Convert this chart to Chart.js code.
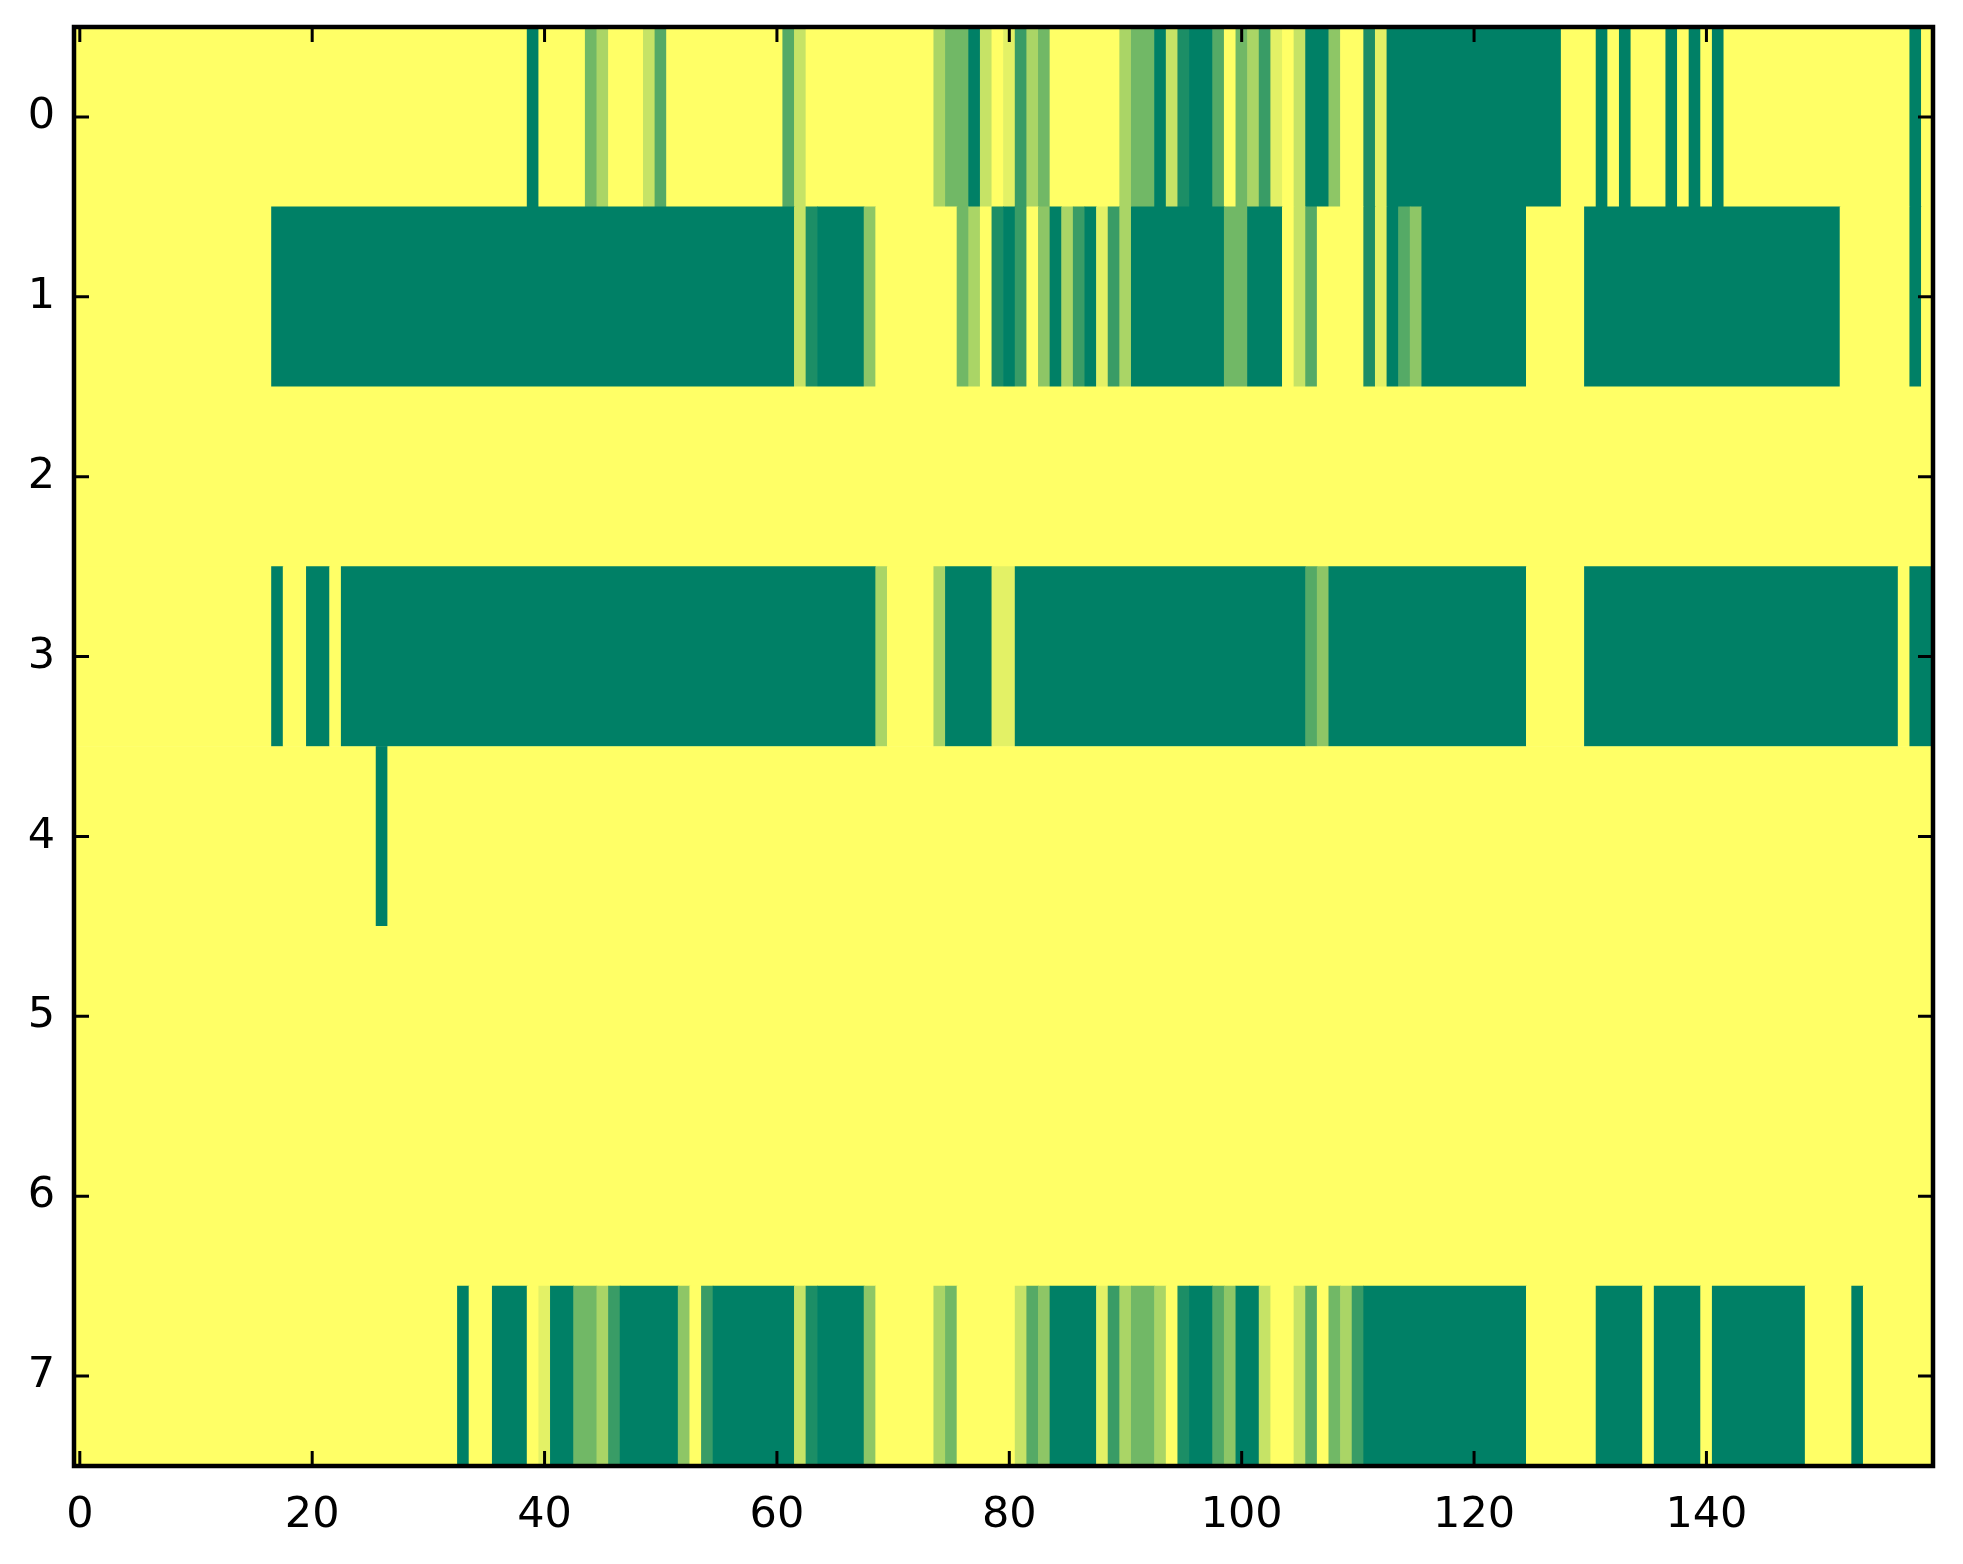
<!DOCTYPE html>
<html>
<head>
<meta charset="utf-8">
<script src="https://cdn.jsdelivr.net/npm/chart.js@4.4.1/dist/chart.umd.min.js"></script>
<style>
html, body { margin: 0; padding: 0; background: #ffffff; }
canvas { display: block; }
</style>
</head>
<body>
<canvas id="chart" width="1963" height="1564"></canvas>
<script>
// cell values per row (0..9), 160 columns each
const row0 = [
    0,0,0,0,0,0,0,0,0,0,0,0,0,0,0,0,0,0,0,0,
    0,0,0,0,0,0,0,0,0,0,0,0,0,0,0,0,0,0,0,9,
    0,0,0,0,5,3,0,0,0,2,6,0,0,0,0,0,0,0,0,0,
    0,6,2,0,0,0,0,0,0,0,0,0,0,0,3,5,5,9,2,0,
    1,7,3,5,0,0,0,0,0,0,3,5,5,9,2,8,9,9,6,0,
    5,3,7,1,0,2,9,9,4,0,0,8,1,9,9,9,9,9,9,9,
    9,9,9,9,9,9,9,9,0,0,0,9,0,9,0,0,0,9,0,9,
    0,9,0,0,0,0,0,0,0,0,0,0,0,0,0,0,0,0,9,0
];
const row1 = [
    0,0,0,0,0,0,0,0,0,0,0,0,0,0,0,0,0,9,9,9,
    9,9,9,9,9,9,9,9,9,9,9,9,9,9,9,9,9,9,9,9,
    9,9,9,9,9,9,9,9,9,9,9,9,9,9,9,9,9,9,9,9,
    9,9,2,8,9,9,9,9,4,0,0,0,0,0,0,0,5,3,0,8,
    9,7,0,4,9,3,7,9,1,7,3,9,9,9,9,9,9,9,9,5,
    5,9,9,9,0,2,6,0,0,0,0,8,1,9,6,4,9,9,9,9,
    9,9,9,9,9,0,0,0,0,0,9,9,9,9,9,9,9,9,9,9,
    9,9,9,9,9,9,9,9,9,9,9,9,0,0,0,0,0,0,9,0
];
const row2 = [
    0,0,0,0,0,0,0,0,0,0,0,0,0,0,0,0,0,0,0,0,
    0,0,0,0,0,0,0,0,0,0,0,0,0,0,0,0,0,0,0,0,
    0,0,0,0,0,0,0,0,0,0,0,0,0,0,0,0,0,0,0,0,
    0,0,0,0,0,0,0,0,0,0,0,0,0,0,0,0,0,0,0,0,
    0,0,0,0,0,0,0,0,0,0,0,0,0,0,0,0,0,0,0,0,
    0,0,0,0,0,0,0,0,0,0,0,0,0,0,0,0,0,0,0,0,
    0,0,0,0,0,0,0,0,0,0,0,0,0,0,0,0,0,0,0,0,
    0,0,0,0,0,0,0,0,0,0,0,0,0,0,0,0,0,0,0,0
];
const row3 = [
    0,0,0,0,0,0,0,0,0,0,0,0,0,0,0,0,0,9,0,0,
    9,9,0,9,9,9,9,9,9,9,9,9,9,9,9,9,9,9,9,9,
    9,9,9,9,9,9,9,9,9,9,9,9,9,9,9,9,9,9,9,9,
    9,9,9,9,9,9,9,9,9,3,0,0,0,0,3,9,9,9,9,1,
    1,9,9,9,9,9,9,9,9,9,9,9,9,9,9,9,9,9,9,9,
    9,9,9,9,9,9,6,4,9,9,9,9,9,9,9,9,9,9,9,9,
    9,9,9,9,9,0,0,0,0,0,9,9,9,9,9,9,9,9,9,9,
    9,9,9,9,9,9,9,9,9,9,9,9,9,9,9,9,9,0,9,9
];
const row4 = [
    0,0,0,0,0,0,0,0,0,0,0,0,0,0,0,0,0,0,0,0,
    0,0,0,0,0,0,9,0,0,0,0,0,0,0,0,0,0,0,0,0,
    0,0,0,0,0,0,0,0,0,0,0,0,0,0,0,0,0,0,0,0,
    0,0,0,0,0,0,0,0,0,0,0,0,0,0,0,0,0,0,0,0,
    0,0,0,0,0,0,0,0,0,0,0,0,0,0,0,0,0,0,0,0,
    0,0,0,0,0,0,0,0,0,0,0,0,0,0,0,0,0,0,0,0,
    0,0,0,0,0,0,0,0,0,0,0,0,0,0,0,0,0,0,0,0,
    0,0,0,0,0,0,0,0,0,0,0,0,0,0,0,0,0,0,0,0
];
const row5 = [
    0,0,0,0,0,0,0,0,0,0,0,0,0,0,0,0,0,0,0,0,
    0,0,0,0,0,0,0,0,0,0,0,0,0,0,0,0,0,0,0,0,
    0,0,0,0,0,0,0,0,0,0,0,0,0,0,0,0,0,0,0,0,
    0,0,0,0,0,0,0,0,0,0,0,0,0,0,0,0,0,0,0,0,
    0,0,0,0,0,0,0,0,0,0,0,0,0,0,0,0,0,0,0,0,
    0,0,0,0,0,0,0,0,0,0,0,0,0,0,0,0,0,0,0,0,
    0,0,0,0,0,0,0,0,0,0,0,0,0,0,0,0,0,0,0,0,
    0,0,0,0,0,0,0,0,0,0,0,0,0,0,0,0,0,0,0,0
];
const row6 = [
    0,0,0,0,0,0,0,0,0,0,0,0,0,0,0,0,0,0,0,0,
    0,0,0,0,0,0,0,0,0,0,0,0,0,0,0,0,0,0,0,0,
    0,0,0,0,0,0,0,0,0,0,0,0,0,0,0,0,0,0,0,0,
    0,0,0,0,0,0,0,0,0,0,0,0,0,0,0,0,0,0,0,0,
    0,0,0,0,0,0,0,0,0,0,0,0,0,0,0,0,0,0,0,0,
    0,0,0,0,0,0,0,0,0,0,0,0,0,0,0,0,0,0,0,0,
    0,0,0,0,0,0,0,0,0,0,0,0,0,0,0,0,0,0,0,0,
    0,0,0,0,0,0,0,0,0,0,0,0,0,0,0,0,0,0,0,0
];
const row7 = [
    0,0,0,0,0,0,0,0,0,0,0,0,0,0,0,0,0,0,0,0,
    0,0,0,0,0,0,0,0,0,0,0,0,0,9,0,0,9,9,9,0,
    1,9,9,5,5,3,7,9,9,9,9,9,4,0,7,9,9,9,9,9,
    9,9,2,8,9,9,9,9,4,0,0,0,0,0,3,5,0,0,0,0,
    0,2,6,4,9,9,9,9,1,7,3,5,5,3,0,8,9,9,6,4,
    9,9,2,0,0,2,6,0,5,3,7,9,9,9,9,9,9,9,9,9,
    9,9,9,9,9,0,0,0,0,0,0,9,9,9,9,0,9,9,9,9,
    0,9,9,9,9,9,9,9,9,0,0,0,0,9,0,0,0,0,0,0
];

const rows = [row0, row1, row2, row3, row4, row5, row6, row7];
const maxValue = 9;
const xTicks = [0, 20, 40, 60, 80, 100, 120, 140];
const yTicks = [0, 1, 2, 3, 4, 5, 6, 7];

// summer colormap, reversed: 0 -> yellow, max -> green
function colorFor(v) {
    const t = v / maxValue;
    const r = Math.round(255 * (1 - t));
    const g = Math.round(255 * (1 - t / 2));
    return 'rgb(' + r + ',' + g + ',102)';
}

// one floating bar per run of equal cells
const bars = [];
const colors = [];
rows.forEach((vals, r) => {
    let start = 0;
    for (let c = 1; c <= vals.length; c++) {
        if (c === vals.length || vals[c] !== vals[start]) {
            bars.push({x: [start - 0.5, c - 0.5], y: r});
            colors.push(colorFor(vals[start]));
            start = c;
        }
    }
});

// frame with inward ticks on all four sides
const frame = {
    id: 'frame',
    afterDatasetsDraw(chart) {
        const ctx = chart.ctx;
        const a = chart.chartArea;
        const xs = chart.scales.x;
        const ys = chart.scales.y;
        const tick = 15;
        ctx.save();
        ctx.strokeStyle = '#000';
        ctx.lineWidth = 3;
        ctx.beginPath();
        xTicks.forEach(v => {
            const px = xs.getPixelForValue(v);
            ctx.moveTo(px, a.bottom); ctx.lineTo(px, a.bottom - tick);
            ctx.moveTo(px, a.top); ctx.lineTo(px, a.top + tick);
        });
        yTicks.forEach(v => {
            const py = ys.getPixelForValue(v);
            ctx.moveTo(a.left, py); ctx.lineTo(a.left + tick, py);
            ctx.moveTo(a.right, py); ctx.lineTo(a.right - tick, py);
        });
        ctx.stroke();
        ctx.lineWidth = 4.5;
        ctx.strokeRect(a.left, a.top, a.right - a.left, a.bottom - a.top);
        ctx.restore();
    }
};

const font = {family: 'DejaVu Sans', size: 43};

const ctx = document.getElementById('chart').getContext('2d');
const chart = new Chart(ctx, {
    type: 'bar',
    data: {
        datasets: [{
            data: bars,
            backgroundColor: colors,
            borderWidth: 0,
            barPercentage: 1,
            categoryPercentage: 1
        }]
    },
    options: {
        indexAxis: 'y',
        responsive: false,
        animation: false,
        devicePixelRatio: 1,
        layout: {padding: {left: 0, top: 27, right: 30, bottom: 0}},
        plugins: {legend: {display: false}, tooltip: {enabled: false}},
        scales: {
            x: {
                type: 'linear',
                min: -0.5,
                max: 159.5,
                offset: false,
                grid: {display: false},
                border: {display: false},
                afterBuildTicks: scale => { scale.ticks = xTicks.map(v => ({value: v})); },
                afterFit: scale => {
                    scale.height = 98;
                    scale.paddingLeft = 0;
                    scale.paddingRight = 0;
                },
                ticks: {color: '#000', font: font, padding: 16, maxRotation: 0, autoSkip: false}
            },
            y: {
                type: 'linear',
                min: -0.5,
                max: 7.5,
                reverse: true,
                offset: false,
                grid: {display: false, offset: false},
                border: {display: false},
                afterBuildTicks: scale => { scale.ticks = yTicks.map(v => ({value: v})); },
                afterFit: scale => {
                    scale.width = 74;
                    scale.paddingTop = 0;
                    scale.paddingBottom = 0;
                },
                ticks: {color: '#000', font: font, padding: 11, autoSkip: false}
            }
        }
    },
    plugins: [frame]
});
</script>
</body>
</html>
